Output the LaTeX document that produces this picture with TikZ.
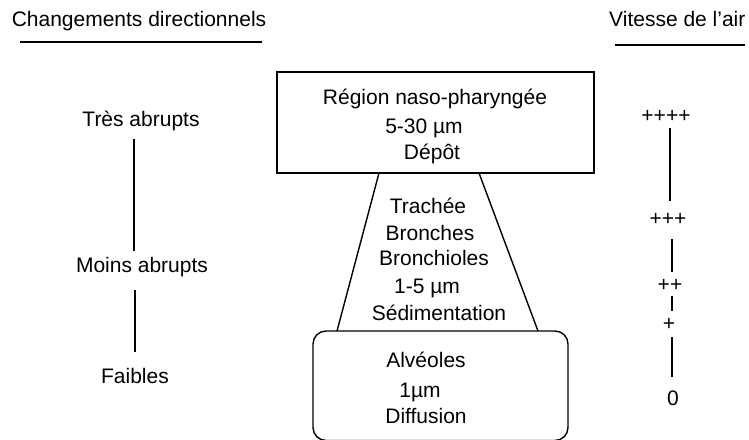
\documentclass[tikz,border=0pt]{standalone}
\usepackage{fontspec}
\setmainfont{Liberation Sans}
\begin{document}
\begin{tikzpicture}[x=1pt,y=-1pt,
  lbl/.style={font=\fontsize{21}{25}\selectfont, inner sep=0pt, anchor=base},
  rule/.style={line width=1.6pt},
  bar/.style={line width=1.4pt},
  boxline/.style={line width=1.4pt}]
\useasboundingbox (0,0) rectangle (749,439);
\clip (0,0) rectangle (749,439);

% headers
\node[lbl] (h1) at (139,26) {Changements directionnels};
\node[lbl, anchor=base west] (h2) at (609,26) {Vitesse de l'air};
\coordinate (u1a) at (20,42);  \coordinate (u1b) at (262,42);
\coordinate (u2a) at (615,45); \coordinate (u2b) at (745,45);
\draw[rule] (u1a) -- (u1b);
\draw[rule] (u2a) -- (u2b);

% left column
\node[lbl] (l1) at (141,126) {Très abrupts};
\node[lbl] (l2) at (142,272) {Moins abrupts};
\node[lbl] (l3) at (135,383) {Faibles};
\coordinate (la1) at (134,139); \coordinate (la2) at (134,251);
\coordinate (lb1) at (135,290); \coordinate (lb2) at (135,352);
\draw[bar] (la1) -- (la2);
\draw[bar] (lb1) -- (lb2);

% right column
\node[lbl] (r1) at (666,122) {++++};
\node[lbl] (r2) at (668,225) {+++};
\node[lbl] (r3) at (670,291) {++};
\node[lbl] (r4) at (669,330) {+};
\node[lbl] (r5) at (673,405) {0};
\coordinate (ra1) at (670,128); \coordinate (ra2) at (670,201);
\coordinate (rb1) at (672,239); \coordinate (rb2) at (672,272);
\coordinate (rc1) at (672,296); \coordinate (rc2) at (672,311);
\coordinate (rd1) at (672,337); \coordinate (rd2) at (672,377);
\draw[bar] (ra1) -- (ra2);
\draw[bar] (rb1) -- (rb2);
\draw[bar] (rc1) -- (rc2);
\draw[bar] (rd1) -- (rd2);

% top box
\draw[boxline] (277,72) rectangle (594,173);
\node[lbl] (t1) at (435,104) {Région naso-pharyngée};
\node[lbl] (t2) at (424,133) {5-30 µm};
\node[lbl] (t3) at (432,159) {Dépôt};

% trapezoid
\coordinate (tl) at (379,173); \coordinate (bl) at (337,331);
\coordinate (tr) at (479,173); \coordinate (br) at (538,331);
\draw[boxline] (tl) -- (bl);
\draw[boxline] (tr) -- (br);
\node[lbl] (m1) at (428,213) {Trachée};
\node[lbl] (m2) at (430,240) {Bronches};
\node[lbl] (m3) at (434,265) {Bronchioles};
\node[lbl] (m4) at (427,293) {1-5 µm};
\node[lbl] (m5) at (439,320) {Sédimentation};

% bottom box
\draw[boxline, rounded corners=13pt] (313,331) rectangle (568,440.5);
\node[lbl] (b1) at (426,367) {Alvéoles};
\node[lbl] (b2) at (420,397) {1µm};
\node[lbl] (b3) at (426,423) {Diffusion};
\end{tikzpicture}
\end{document}
